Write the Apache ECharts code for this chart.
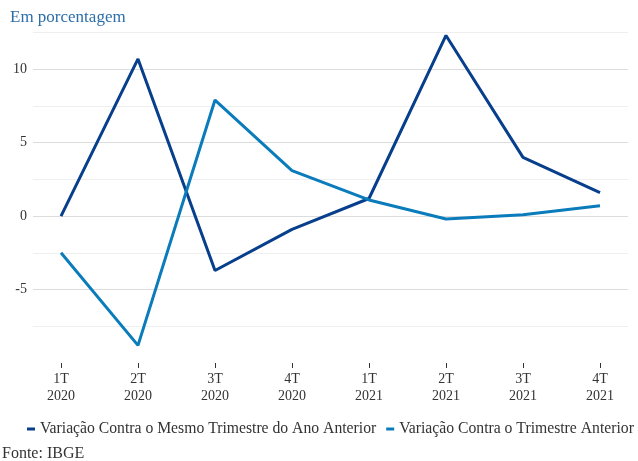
<!DOCTYPE html>
<html>
<head>
<meta charset="utf-8">
<script src="https://cdn.jsdelivr.net/npm/echarts@6/dist/echarts.min.js"></script>
<style>html,body{margin:0;padding:0;background:#fff}#c{width:638px;height:461px}</style>
</head>
<body>
<div id="c"></div>
<script>
const categories = ['1T\n2020','2T\n2020','3T\n2020','4T\n2020','1T\n2021','2T\n2021','3T\n2021','4T\n2021'];
const seriesNames = ['Variação Contra o Mesmo Trimestre do Ano Anterior','Variação Contra o Trimestre Anterior'];
const yoyValues = [0.0, 10.7, -3.7, -0.9, 1.2, 12.3, 4.0, 1.6];
const qoqValues = [-2.5, -8.8, 7.9, 3.1, 1.1, -0.2, 0.1, 0.7];
const yTickValues = [-5, 0, 5, 10];

const FONT = "'Liberation Serif', 'DejaVu Serif', serif";
const DARK = '#073f8c';
const LIGHT = '#0a7cbb';
const MAJOR = '#dcdcdc';
const MINOR = '#efefef';

const chart = echarts.init(document.getElementById('c'), null, {renderer: 'canvas'});
const idx = categories.map((c, i) => i);
chart.setOption({
  animation: false,
  backgroundColor: '#ffffff',
  textStyle: {fontFamily: FONT},
  title: {
    text: 'Em porcentagem',
    left: 5, top: 4,
    textStyle: {fontFamily: FONT, fontSize: 17, fontWeight: 'normal', color: '#2d6ea8'}
  },
  legend: {
    left: 27, top: 421, width: 800, padding: 0,
    itemWidth: 8, itemHeight: 3, itemGap: 10,
    icon: 'rect',
    textStyle: {fontFamily: FONT, fontSize: 15.7, color: '#333333'},
    data: seriesNames
  },
  graphic: [{
    type: 'text', left: 2, top: 446,
    style: {text: 'Fonte: IBGE', font: "16px 'Liberation Serif', serif", fill: '#333333'}
  }],
  grid: {left: 33, right: 10, top: 32.5, bottom: 98, containLabel: false},
  xAxis: {
    type: 'value',
    min: -28/77, max: 7 + 28/77,
    splitLine: {show: false},
    axisLine: {show: false, onZero: false},
    axisTick: {show: true, customValues: idx, length: 5, lineStyle: {color: '#333333', width: 1}},
    axisLabel: {
      customValues: idx,
      formatter: v => categories[Math.round(v)] || '',
      fontFamily: FONT, fontSize: 14, color: '#333333', lineHeight: 17, margin: 8
    }
  },
  yAxis: {
    type: 'value',
    min: -10, max: 12.5, interval: 2.5,
    axisLine: {show: false},
    axisTick: {show: false},
    axisLabel: {
      formatter: v => yTickValues.indexOf(v) >= 0 ? String(v) : '',
      fontFamily: FONT, fontSize: 14, color: '#333333', margin: 6
    },
    splitLine: {show: true, lineStyle: {width: 1.2, color: ['rgba(0,0,0,0)', MINOR, MAJOR, MINOR, MAJOR, MINOR, MAJOR, MINOR, MAJOR, MINOR]}}
  },
  series: [
    {name: seriesNames[0], type: 'line', data: yoyValues.map((v, i) => [i, v]), showSymbol: false, symbol: 'none',
     lineStyle: {color: DARK, width: 3}, itemStyle: {color: DARK}},
    {name: seriesNames[1], type: 'line', data: qoqValues.map((v, i) => [i, v]), showSymbol: false, symbol: 'none',
     lineStyle: {color: LIGHT, width: 3}, itemStyle: {color: LIGHT}}
  ]
});
</script>
</body>
</html>
